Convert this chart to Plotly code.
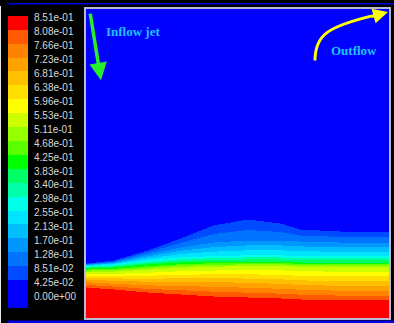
import numpy as np
import plotly.graph_objects as go

W, H = 394, 323

# ---- colour-bar levels and labels ----
level_step = 0.851 / 20
levels = [round(k * level_step, 5) for k in range(21)]
level_labels = ["0.00e+00", "4.25e-02", "8.51e-02", "1.28e-01", "1.70e-01", "2.13e-01",
                "2.55e-01", "2.98e-01", "3.40e-01", "3.83e-01", "4.25e-01", "4.68e-01",
                "5.11e-01", "5.53e-01", "5.96e-01", "6.38e-01", "6.81e-01", "7.23e-01",
                "7.66e-01", "8.08e-01", "8.51e-01"]
band_colors = ["rgb(0,0,255)", "rgb(0,0,255)", "rgb(0,75,255)", "rgb(0,115,255)",
               "rgb(0,150,255)", "rgb(0,190,255)", "rgb(0,228,255)", "rgb(0,255,232)",
               "rgb(0,255,170)", "rgb(0,255,100)", "rgb(0,255,0)", "rgb(90,255,0)",
               "rgb(150,255,0)", "rgb(205,255,0)", "rgb(255,255,0)", "rgb(255,222,0)",
               "rgb(255,192,0)", "rgb(255,162,0)", "rgb(255,130,0)", "rgb(255,90,0)",
               "rgb(255,0,0)"]

# ---- field: height of selected value levels at x stations ----
x_stations = [0, 27, 61, 94, 127, 161, 194, 214, 254, 303]
h_red   = [31, 29, 26, 24, 22, 21, 20, 19, 18, 18]     # value 0.851
h_orange= [39, 38, 37, 37, 37, 36, 35, 34, 33, 33]     # value 0.72
h_yellow= [47, 47, 49, 51, 52, 53, 53, 52, 52, 52]     # value 0.55
h_green = [50, 51, 54, 56, 57, 57, 57, 56, 56, 56]     # value 0.425
h_cyan  = [52.5, 54, 58, 61, 62, 63, 63, 62, 62, 62]   # value 0.30
h_mid   = [54, 56, 64, 71, 76, 78, 78, 77, 76, 76]     # value 0.17
h_top   = [55, 58, 68, 80, 93, 99, 95, 89, 87, 86]     # value 0.085
profile_values = [0.9, 0.851, 0.72, 0.55, 0.425, 0.30, 0.17, 0.085, 0.0]
domain_width, domain_height = 303, 312

xs = np.arange(0, domain_width + 1, 1.0)
ys = np.arange(0, domain_height + 1, 1.0)
rows = [h_red, h_orange, h_yellow, h_green, h_cyan, h_mid, h_top]
rows_fine = [np.interp(xs, x_stations, r) for r in rows]
Z = np.zeros((len(ys), len(xs)))
for j in range(len(xs)):
    yk = [0.0] + [r[j] for r in rows_fine] + [float(domain_height)]
    Z[:, j] = np.interp(ys, yk, profile_values)

zmax = 21 * level_step
cs = []
for k, c in enumerate(band_colors):
    cs.append([k / 21, c])
    cs.append([(k + 1) / 21, c])

fig = go.Figure()
fig.add_trace(go.Heatmap(x=xs, y=ys, z=Z, zmin=0, zmax=zmax, colorscale=cs,
                         showscale=False, hoverinfo="skip", xaxis="x", yaxis="y"))
fig.add_trace(go.Heatmap(x=[0], y=list(range(21)), z=[[v] for v in levels],
                         zmin=0, zmax=zmax, colorscale=cs, showscale=False,
                         hoverinfo="skip", xaxis="x2", yaxis="y2"))

def px(x):
    return x / W

def py(y):
    return 1 - y / H

fig.update_layout(
    width=W, height=H, autosize=False,
    margin=dict(l=0, r=0, t=0, b=0),
    paper_bgcolor="black", plot_bgcolor="black",
    showlegend=False,
    xaxis=dict(domain=[px(86), px(389)], range=[0, domain_width], visible=True,
               showticklabels=False, ticks="", showgrid=False, zeroline=False,
               showline=True, linecolor="#b8b8d4", linewidth=2, mirror=True),
    yaxis=dict(domain=[py(318), py(6)], range=[0, domain_height],
               showticklabels=False, ticks="", showgrid=False, zeroline=False,
               showline=True, linecolor="#b8b8d4", linewidth=2, mirror=True),
    xaxis2=dict(domain=[px(8), px(28)], range=[-0.5, 0.5], anchor="y2",
                showticklabels=False, ticks="", showgrid=False, zeroline=False, showline=False),
    yaxis2=dict(domain=[py(308), py(13)], range=[-0.5, 20.5], anchor="x2", side="right",
                tickvals=[k + 0.35 for k in range(21)], ticktext=level_labels,
                tickfont=dict(family="Liberation Sans, Arial", size=10, color="#d8d8d8"),
                ticks="", ticklabelstandoff=5, showgrid=False, zeroline=False, showline=False),
)

# window frame decorations
fig.add_shape(type="rect", xref="paper", yref="paper", x0=px(8), x1=1, y0=py(1.5), y1=1,
              fillcolor="#0000e0", line_width=0, layer="above")
fig.add_shape(type="rect", xref="paper", yref="paper", x0=px(8), x1=1, y0=0, y1=py(320.5),
              fillcolor="#0000e0", line_width=0, layer="above")
fig.add_shape(type="rect", xref="paper", yref="paper", x0=0, x1=px(1), y0=py(323), y1=py(3),
              fillcolor="#e8e8e8", line_width=0, layer="above")

# labels
fig.add_annotation(x=px(133), y=py(29), xref="paper", yref="paper", text="<b>Inflow jet</b>",
                   xanchor="center", yanchor="middle", showarrow=False,
                   font=dict(family="Liberation Serif, Times New Roman", size=13, color="#1ec0ff"))
fig.add_annotation(x=px(354), y=py(48), xref="paper", yref="paper", text="<b>Outflow</b>",
                   xanchor="center", yanchor="middle", showarrow=False,
                   font=dict(family="Liberation Serif, Times New Roman", size=13, color="#1ec0ff"))
# green arrow
fig.add_annotation(x=px(101), y=py(78), xref="paper", yref="paper", ax=-11, ay=-68,
                   text="", showarrow=True, arrowhead=2, arrowsize=1, arrowwidth=3.5,
                   arrowcolor="#28f028")
# yellow curved arrow
fig.add_shape(type="path", xref="paper", yref="paper",
              path=f"M {px(315)},{py(58)} C {px(315)},{py(32)} {px(328)},{py(24)} {px(372)},{py(13)}",
              line=dict(color="#ffff00", width=3), layer="above")
fig.add_annotation(x=px(388), y=py(9), xref="paper", yref="paper", ax=-18, ay=5,
                   text="", showarrow=True, arrowhead=2, arrowsize=1, arrowwidth=3,
                   arrowcolor="#ffff00")

fig.write_html("out.html", config={"displayModeBar": False},
               post_script="document.body.style.margin='0';document.body.style.overflow='hidden';")
